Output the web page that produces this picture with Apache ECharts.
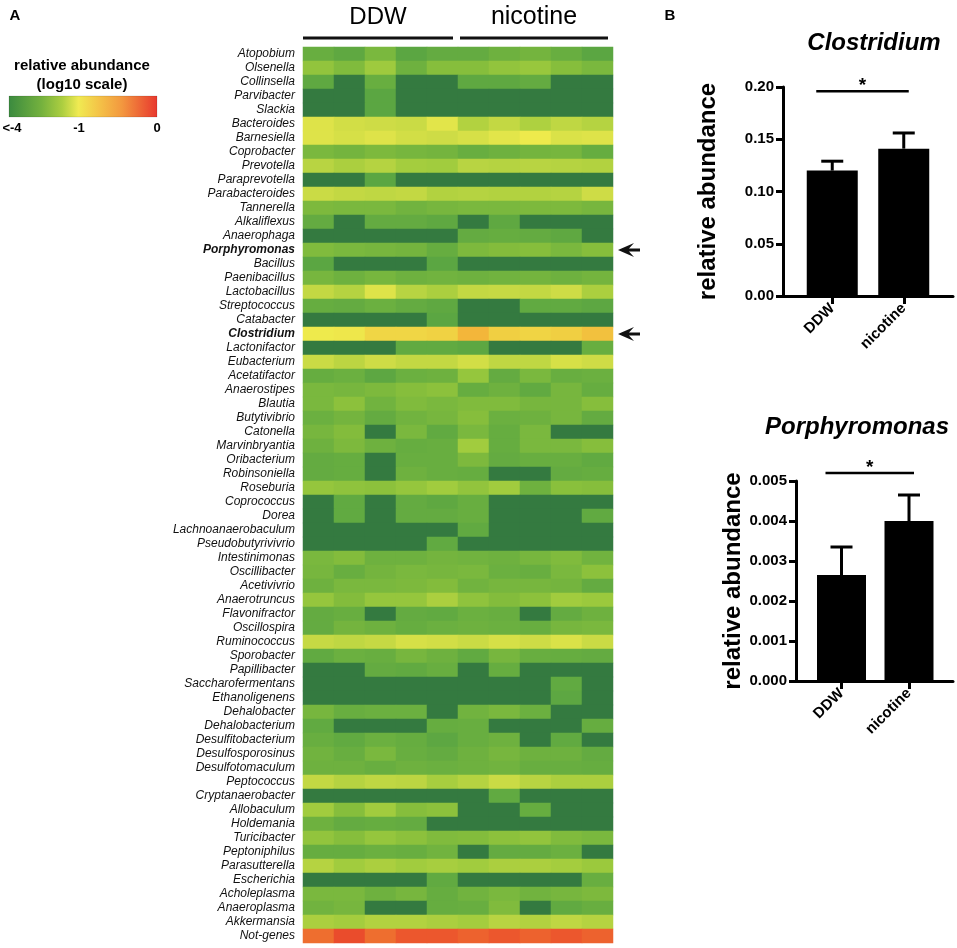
<!DOCTYPE html>
<html>
<head>
<meta charset="utf-8">
<title>relative abundance</title>
<script src="https://cdn.jsdelivr.net/npm/echarts@6.0.0/dist/echarts.min.js"></script>
<style>
html,body{margin:0;padding:0;background:#fff;}
#main{width:957px;height:948px;}
</style>
</head>
<body>
<div id="main"></div>
<script>
// genus names, top to bottom
var genera = ['Atopobium','Olsenella','Collinsella','Parvibacter','Slackia','Bacteroides','Barnesiella',
  'Coprobacter','Prevotella','Paraprevotella','Parabacteroides','Tannerella','Alkaliflexus','Anaerophaga',
  'Porphyromonas','Bacillus','Paenibacillus','Lactobacillus','Streptococcus','Catabacter','Clostridium',
  'Lactonifactor','Eubacterium','Acetatifactor','Anaerostipes','Blautia','Butytivibrio','Catonella',
  'Marvinbryantia','Oribacterium','Robinsoniella','Roseburia','Coprococcus','Dorea','Lachnoanaerobaculum',
  'Pseudobutyrivivrio','Intestinimonas','Oscillibacter','Acetivivrio','Anaerotruncus','Flavonifractor',
  'Oscillospira','Ruminococcus','Sporobacter','Papillibacter','Saccharofermentans','Ethanoligenens',
  'Dehalobacter','Dehalobacterium','Desulfitobacterium','Desulfosporosinus','Desulfotomaculum','Peptococcus',
  'Cryptanaerobacter','Allobaculum','Holdemania','Turicibacter','Peptoniphilus','Parasutterella',
  'Escherichia','Acholeplasma','Anaeroplasma','Akkermansia','Not-genes'];
var boldGenera = ['Porphyromonas','Clostridium'];
var samples = ['DDW-1','DDW-2','DDW-3','DDW-4','DDW-5','NIC-1','NIC-2','NIC-3','NIC-4','NIC-5'];
var groupNames = ['DDW','nicotine'];
var legendTicks = ['<-4','-1','0'];

// log10 relative abundance, one row per genus, 5 DDW + 5 nicotine samples (-4 means <-4)
var abundance = [
  [-3.0,-3.2,-2.7,-3.3,-3.1,-3.1,-2.9,-2.8,-3.0,-3.3],
  [-2.3,-2.6,-2.1,-2.9,-2.5,-2.5,-2.3,-2.2,-2.5,-2.7],
  [-3.2,-4,-3.0,-4,-4,-3.2,-3.2,-3.1,-4,-4],
  [-4,-4,-3.3,-4,-4,-4,-4,-4,-4,-4],
  [-4,-4,-3.3,-4,-4,-4,-4,-4,-4,-4],
  [-1.2,-1.35,-1.4,-1.45,-1.15,-1.8,-1.55,-1.85,-1.6,-1.75],
  [-1.2,-1.3,-1.2,-1.35,-1.4,-1.3,-1.15,-1.0,-1.25,-1.2],
  [-2.7,-2.8,-2.65,-2.75,-2.8,-3.0,-2.9,-2.8,-2.75,-3.05],
  [-1.7,-1.9,-1.75,-2.0,-2.05,-1.7,-1.75,-1.7,-1.75,-1.8],
  [-4,-4,-3.3,-4,-4,-4,-4,-4,-4,-4],
  [-1.45,-1.55,-1.6,-1.55,-1.8,-1.75,-1.8,-1.8,-1.75,-1.4],
  [-2.65,-2.7,-2.7,-2.85,-2.75,-2.7,-2.7,-2.65,-2.65,-2.75],
  [-3.1,-4,-3.1,-3.1,-3.2,-4,-3.2,-4,-4,-4],
  [-4,-4,-4,-4,-4,-3.1,-3.05,-3.1,-3.2,-4],
  [-2.6,-2.7,-2.75,-2.8,-3.05,-2.65,-2.55,-2.5,-2.7,-2.5],
  [-3.3,-4,-4,-4,-3.3,-4,-4,-4,-4,-4],
  [-2.75,-2.9,-2.75,-2.9,-2.85,-2.9,-2.85,-2.8,-2.9,-2.8],
  [-1.55,-1.75,-1.2,-1.7,-1.9,-1.55,-1.5,-1.55,-1.4,-1.9],
  [-3.05,-3.1,-2.95,-3.1,-3.2,-4,-4,-3.15,-3.15,-3.25],
  [-4,-4,-4,-4,-3.3,-4,-4,-4,-4,-4],
  [-1.0,-0.98,-0.85,-0.85,-0.82,-0.62,-0.8,-0.84,-0.8,-0.7],
  [-4,-4,-4,-3.15,-3.15,-3.25,-4,-4,-4,-3.0],
  [-1.45,-1.65,-1.4,-1.55,-1.55,-1.35,-1.6,-1.6,-1.3,-1.4],
  [-3.05,-2.95,-3.25,-2.95,-2.9,-2.25,-3.1,-2.7,-3.0,-2.95],
  [-2.7,-2.75,-2.65,-2.5,-2.4,-3.05,-2.9,-3.15,-2.75,-3.05],
  [-2.7,-2.4,-2.85,-2.6,-2.7,-2.6,-2.6,-2.75,-2.75,-2.5],
  [-2.95,-2.8,-3.1,-2.85,-2.75,-2.5,-2.95,-2.9,-2.75,-3.1],
  [-2.75,-2.55,-4,-2.7,-3.15,-2.7,-3.05,-2.7,-4,-4],
  [-2.9,-2.65,-2.9,-3.05,-3.0,-2.05,-3.05,-2.7,-2.7,-2.5],
  [-3.1,-3.05,-4,-3.0,-3.0,-2.65,-3.1,-3.0,-3.0,-3.15],
  [-3.1,-3.05,-4,-2.9,-3.0,-3.05,-4,-4,-3.1,-3.05],
  [-2.25,-2.35,-2.4,-2.25,-2.05,-2.3,-2.05,-2.9,-2.45,-2.5],
  [-4,-3.15,-4,-3.1,-3.2,-3.0,-4,-4,-4,-4],
  [-4,-3.15,-4,-3.1,-3.1,-3.0,-4,-4,-4,-3.15],
  [-4,-4,-4,-4,-4,-3.15,-4,-4,-4,-4],
  [-4,-4,-4,-4,-3.15,-4,-4,-4,-4,-4],
  [-2.7,-2.55,-2.9,-2.9,-2.8,-2.85,-2.9,-2.75,-2.6,-2.85],
  [-2.75,-3.0,-2.8,-2.7,-2.75,-2.7,-2.95,-3.0,-2.7,-2.4],
  [-2.9,-2.7,-2.7,-2.65,-2.55,-2.85,-2.75,-2.75,-2.8,-3.1],
  [-2.25,-2.55,-2.25,-2.25,-1.9,-2.35,-2.55,-2.4,-2.05,-2.15],
  [-3.1,-3.0,-4,-3.1,-3.15,-2.95,-3.0,-4,-3.1,-2.9],
  [-3.1,-2.8,-2.9,-3.05,-2.95,-2.9,-2.95,-3.0,-2.75,-2.7],
  [-1.5,-1.6,-1.5,-1.3,-1.35,-1.45,-1.3,-1.4,-1.25,-1.45],
  [-3.15,-2.95,-3.0,-2.75,-2.9,-3.15,-2.75,-3.0,-3.05,-3.1],
  [-4,-4,-3.1,-3.15,-3.0,-4,-3.05,-4,-4,-4],
  [-4,-4,-4,-4,-4,-4,-4,-4,-3.15,-4],
  [-4,-4,-4,-4,-4,-4,-4,-4,-3.25,-4],
  [-2.75,-3.0,-2.95,-2.95,-4,-2.85,-2.7,-2.95,-4,-4],
  [-3.15,-4,-4,-4,-3.05,-3.0,-4,-4,-4,-3.05],
  [-3.0,-3.15,-2.95,-3.05,-3.25,-3.0,-2.9,-4,-3.15,-4],
  [-2.85,-3.0,-2.7,-3.0,-3.1,-2.9,-2.75,-2.9,-2.9,-3.1],
  [-2.9,-2.9,-3.0,-2.9,-2.95,-2.9,-2.85,-3.0,-3.0,-3.05],
  [-1.55,-1.75,-1.6,-1.65,-1.95,-1.75,-1.45,-1.7,-1.9,-1.9],
  [-4,-4,-4,-4,-4,-4,-3.15,-4,-4,-4],
  [-2.05,-2.5,-2.05,-2.5,-2.4,-4,-4,-3.05,-4,-4],
  [-2.9,-3.1,-3.05,-3.1,-4,-4,-4,-4,-4,-4],
  [-2.3,-2.5,-2.25,-2.4,-2.6,-2.55,-2.4,-2.3,-2.6,-2.7],
  [-3.05,-3.05,-2.95,-3.0,-2.85,-4,-3.1,-3.1,-2.95,-4],
  [-1.75,-2.05,-1.9,-2.05,-1.95,-2.05,-1.9,-1.9,-2.0,-2.15],
  [-4,-4,-4,-4,-3.15,-4,-4,-4,-4,-3.0],
  [-2.7,-2.7,-2.9,-2.75,-3.05,-2.85,-2.7,-2.85,-2.75,-2.65],
  [-2.85,-2.75,-4,-4,-3.05,-3.0,-2.6,-4,-3.15,-3.0],
  [-1.9,-2.0,-1.8,-1.8,-1.9,-2.0,-1.7,-1.8,-1.6,-1.75],
  [-0.25,-0.1,-0.25,-0.15,-0.15,-0.2,-0.15,-0.2,-0.15,-0.2]
];

// panel B: mean and SEM
var clostridiumMean = [0.120, 0.141];
var clostridiumSem = [0.009, 0.015];
var clostridiumTicks = [0, 0.2, 0.05];
var clostridiumSig = 0.196;
var porphyromonasMean = [0.00265, 0.0040];
var porphyromonasSem = [0.0007, 0.00065];
var porphyromonasTicks = [0, 0.005, 0.001];
var porphyromonasSig = 0.0052;

var FONT = '"Liberation Sans", Arial, Helvetica, sans-serif';

var heatData = [];
for (var r = 0; r < genera.length; r++) {
  for (var c = 0; c < samples.length; c++) {
    heatData.push([c, r, abundance[r][c]]);
  }
}

function errorData(mean, sem) {
  return mean.map(function (m, i) { return [i, m, m + sem[i]]; });
}

function errorBarItem(params, api) {
  var p0 = api.coord([api.value(0), api.value(1)]);
  var p1 = api.coord([api.value(0), api.value(2)]);
  return {
    type: 'group',
    children: [
      { type: 'line', shape: { x1: p0[0], y1: p0[1], x2: p1[0], y2: p1[1] }, style: { stroke: '#000', lineWidth: 3 } },
      { type: 'line', shape: { x1: p1[0] - 11, y1: p1[1], x2: p1[0] + 11, y2: p1[1] }, style: { stroke: '#000', lineWidth: 3 } }
    ]
  };
}

function sigItem(params, api) {
  var a = api.coord([0, api.value(1)]);
  var b = api.coord([1, api.value(1)]);
  var x1 = a[0] - 16, x2 = b[0] + 5;
  return {
    type: 'group',
    children: [
      { type: 'line', shape: { x1: x1, y1: a[1], x2: x2, y2: a[1] }, style: { stroke: '#000', lineWidth: 2.5 } },
      { type: 'text', style: { text: '*', x: (x1 + x2) / 2, y: a[1] - 5, textAlign: 'center', textVerticalAlign: 'middle',
        font: 'bold 19px ' + FONT, fill: '#000' } }
    ]
  };
}

function frameY(grid, ticks, digits, gap) {
  return {
    gridIndex: grid, type: 'value', min: ticks[0], max: ticks[1], interval: ticks[2],
    axisLine: { show: true, onZero: false, lineStyle: { color: '#000', width: 3 } },
    axisTick: { show: true, length: 7, lineStyle: { color: '#000', width: 3 } },
    axisLabel: { margin: 9, color: '#000', fontSize: 15, fontWeight: 'bold', fontFamily: FONT,
      formatter: function (v) { return v.toFixed(digits); } },
    splitLine: { show: false },
    name: 'relative abundance', nameLocation: 'middle', nameGap: gap,
    nameTextStyle: { fontSize: 24, fontWeight: 'bold', color: '#000', fontFamily: FONT }
  };
}
function frameX(grid) {
  return {
    gridIndex: grid, type: 'value', min: 0, max: 1,
    axisLine: { show: true, onZero: false, lineStyle: { color: '#000', width: 3 } },
    axisTick: { show: false }, axisLabel: { show: false }, splitLine: { show: false }
  };
}
function barX(grid) {
  return {
    gridIndex: grid, type: 'category', data: groupNames,
    axisLine: { show: false },
    axisTick: { show: true, alignWithLabel: true, length: 8, lineStyle: { color: '#000', width: 3 } },
    axisLabel: { rotate: 45, margin: 10, color: '#000', fontSize: 15, fontWeight: 'bold', fontFamily: FONT }
  };
}
function barY(grid, ticks) {
  return { gridIndex: grid, type: 'value', min: ticks[0], max: ticks[1], show: false };
}

var chart = echarts.init(document.getElementById('main'));

var option = {
  animation: false,
  textStyle: { fontFamily: FONT },
  grid: [
    { left: 303, top: 47, width: 310, height: 896, outerBoundsMode: 'none' },
    { left: 783, top: 87, width: 170, height: 209, outerBoundsMode: 'none' },
    { left: 796.5, top: 87, width: 143, height: 209, outerBoundsMode: 'none' },
    { left: 796, top: 481, width: 157, height: 200, outerBoundsMode: 'none' },
    { left: 807.75, top: 481, width: 135, height: 200, outerBoundsMode: 'none' }
  ],
  xAxis: [
    { gridIndex: 0, type: 'category', data: samples, show: false },
    frameX(1), barX(2), frameX(3), barX(4)
  ],
  yAxis: [
    {
      gridIndex: 0, type: 'category', data: genera, inverse: true,
      axisLine: { show: false }, axisTick: { show: false }, splitLine: { show: false },
      axisLabel: {
        interval: 0, margin: 8, color: '#111', fontSize: 12, fontStyle: 'italic', fontFamily: FONT,
        formatter: function (v) { return boldGenera.indexOf(v) >= 0 ? '{b|' + v + '}' : v; },
        rich: { b: { fontSize: 12, fontStyle: 'italic', fontWeight: 'bold', color: '#111', fontFamily: FONT } }
      }
    },
    frameY(1, clostridiumTicks, 2, 63), barY(2, clostridiumTicks),
    frameY(3, porphyromonasTicks, 3, 51), barY(4, porphyromonasTicks)
  ],
  visualMap: {
    type: 'continuous', show: false, seriesIndex: 0, min: -4, max: 0,
    inRange: { color: ['#347a40', '#52a043', '#68ae40', '#86be3c', '#a4cd3e', '#c6d944', '#eeea4c', '#f4a634', '#e8352a'] }
  },
  series: [
    { type: 'heatmap', xAxisIndex: 0, yAxisIndex: 0, data: heatData, itemStyle: { borderWidth: 0 }, emphasis: { disabled: true } },
    { type: 'bar', xAxisIndex: 2, yAxisIndex: 2, data: clostridiumMean, barWidth: 51, itemStyle: { color: '#000' }, silent: true },
    { type: 'custom', xAxisIndex: 2, yAxisIndex: 2, data: errorData(clostridiumMean, clostridiumSem), renderItem: errorBarItem, z: 3 },
    { type: 'custom', xAxisIndex: 2, yAxisIndex: 2, data: [[0, clostridiumSig]], renderItem: sigItem, z: 3 },
    { type: 'bar', xAxisIndex: 4, yAxisIndex: 4, data: porphyromonasMean, barWidth: 49, itemStyle: { color: '#000' }, silent: true },
    { type: 'custom', xAxisIndex: 4, yAxisIndex: 4, data: errorData(porphyromonasMean, porphyromonasSem), renderItem: errorBarItem, z: 3 },
    { type: 'custom', xAxisIndex: 4, yAxisIndex: 4, data: [[0, porphyromonasSig]], renderItem: sigItem, z: 3 }
  ]
};
chart.setOption(option);

// annotations placed from the heatmap's own scales
function cell(c, r) { return chart.convertToPixel({ xAxisIndex: 0, yAxisIndex: 0 }, [c, r]); }
var cw = cell(1, 0)[0] - cell(0, 0)[0];
var left0 = cell(0, 0)[0] - cw / 2;
var right4 = cell(4, 0)[0] + cw / 2;
var right9 = cell(9, 0)[0] + cw / 2;
var topY = cell(0, 0)[1] - (cell(0, 1)[1] - cell(0, 0)[1]) / 2;

function txt(s, x, y, font, align) {
  return { type: 'text', style: { text: s, x: x, y: y, font: font, fill: '#000', textAlign: align || 'center', textVerticalAlign: 'middle' } };
}
function hline(x1, x2, y) {
  return { type: 'line', shape: { x1: x1, y1: y, x2: x2, y2: y }, style: { stroke: '#111', lineWidth: 3 } };
}
function arrow(y) {
  var x = right9 + 5;
  return { type: 'polygon', shape: { points: [[x, y], [x + 16, y - 7], [x + 11, y - 1.5], [x + 22, y - 1.5],
    [x + 22, y + 1.5], [x + 11, y + 1.5], [x + 16, y + 7]] }, style: { fill: '#111' } };
}

var elements = [
  txt('A', 15, 16, 'bold 15px ' + FONT),
  txt('B', 670, 16, 'bold 15px ' + FONT),
  txt(groupNames[0], (left0 + right4 - 5) / 2, topY - 30, '24px ' + FONT),
  txt(groupNames[1], (right4 + 2 + right9 - 5) / 2, topY - 30, '25px ' + FONT),
  hline(left0, right4 - 5, topY - 9),
  hline(right4 + 2, right9 - 5, topY - 9),
  txt('relative abundance', 82, 66, 'bold 15px ' + FONT),
  txt('(log10 scale)', 82, 85, 'bold 15px ' + FONT),
  {
    type: 'rect', shape: { x: 9, y: 96, width: 148, height: 21 },
    style: { fill: new echarts.graphic.LinearGradient(0, 0, 1, 0, [
      { offset: 0, color: '#3a8a3f' }, { offset: 0.22, color: '#74b13e' }, { offset: 0.36, color: '#acce40' },
      { offset: 0.47, color: '#f0ea52' }, { offset: 0.6, color: '#f4c548' }, { offset: 0.76, color: '#f3983f' },
      { offset: 1, color: '#e8372e' }]), stroke: 'rgba(0,0,0,0.12)', lineWidth: 1 }
  },
  txt(legendTicks[0], 12, 128, 'bold 13px ' + FONT),
  txt(legendTicks[1], 79, 128, 'bold 13px ' + FONT),
  txt(legendTicks[2], 157, 128, 'bold 13px ' + FONT),
  txt('Clostridium', 874, 43, 'italic bold 24px ' + FONT),
  txt('Porphyromonas', 857, 427, 'italic bold 24px ' + FONT),
  arrow(cell(9, genera.indexOf('Porphyromonas'))[1]),
  arrow(cell(9, genera.indexOf('Clostridium'))[1])
];
chart.setOption({ graphic: elements });
</script>
</body>
</html>
